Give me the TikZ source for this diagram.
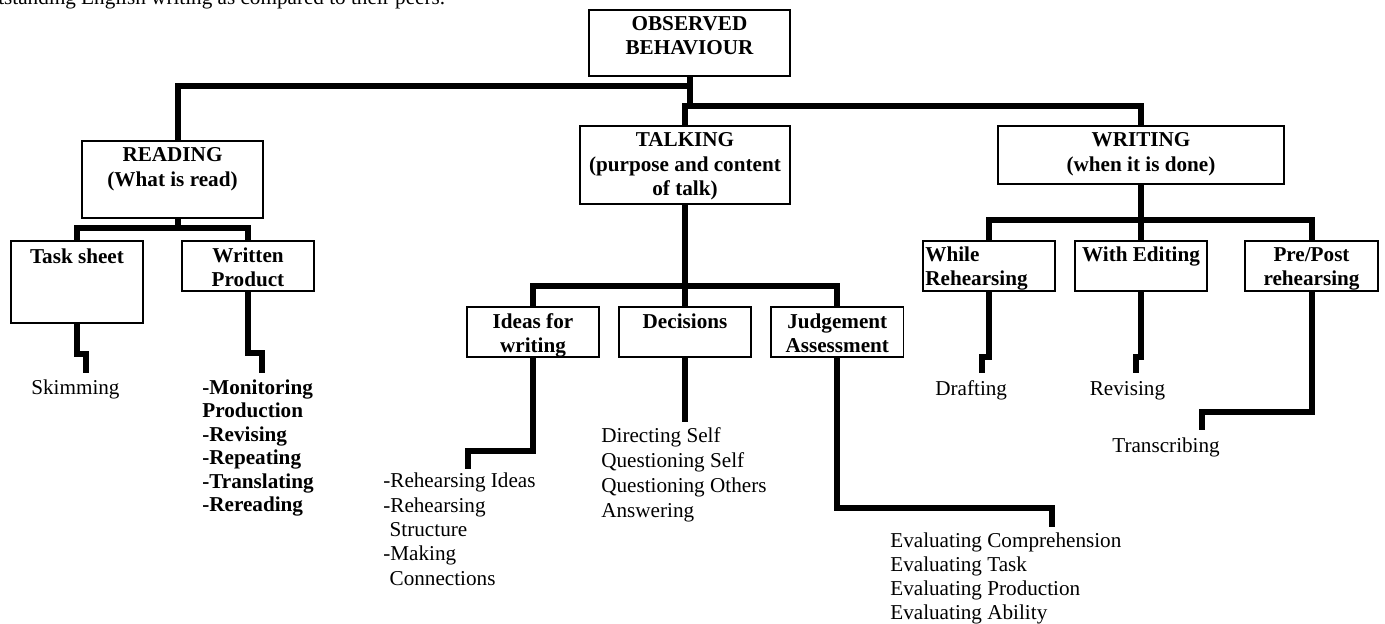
\documentclass[tikz,border=0pt]{standalone}
\usepackage{fontspec}
\setmainfont{Liberation Serif}
\usetikzlibrary{fit}
\begin{document}
\begin{tikzpicture}[x=0.6pt,y=-0.6pt,
  box/.style={draw, line width=0.8pt, inner sep=0pt},
  lbl/.style={font=\bfseries\fontsize{12.7}{14.7}\selectfont, align=center, inner sep=0pt, anchor=base},
  conn/.style={line width=3.6pt, line join=miter},
  txt/.style={font=\fontsize{12.7}{14.4}\selectfont, align=left, inner sep=0pt, anchor=base west}]
\useasboundingbox (0,0) rectangle (1385,623);
\clip (0,0) rectangle (1385,623);

% top text line (cut off); base anchor = baseline of the last line
\node[txt] (toptext) at (-2,4) {tstanding English writing as compared to their peers.};

% boxes
\node[box, fit={(589,10) (790,76)}] (ob) {};
\node[lbl] (obt) at (689.5,54.5) {OBSERVED\\BEHAVIOUR};

\node[box, fit={(82,141) (263,218)}] (read) {};
\node[lbl] (readt) at (172.5,186) {READING\\(What is read)};

\node[box, fit={(580,126) (790,204)}] (talk) {};
\node[lbl] (talkt) at (685,195.5) {TALKING\\(purpose and content\\of talk)};

\node[box, fit={(998,126) (1284,184)}] (writ) {};
\node[lbl] (writt) at (1141,171) {WRITING\\(when it is done)};

\node[box, fit={(11,241) (143,323)}] (task) {};
\node[lbl] (taskt) at (77,263) {Task sheet};

\node[box, fit={(182,241) (314,291)}] (wprod) {};
\node[lbl] (wprodt) at (248,286.5) {Written\\Product};

\node[box, fit={(467,307) (599,357)}] (ideas) {};
\node[lbl] (ideast) at (533,352.5) {Ideas for\\writing};

\node[box, fit={(619,307) (751,357)}] (dec) {};
\node[lbl] (dect) at (685,328) {Decisions};

\node[box, fit={(771,307) (903.6,357)}] (judg) {};
\node[lbl] (judgt) at (837.3,352.5) {Judgement\\Assessment};

\node[box, fit={(923,241) (1055,291)}] (while) {};
\node[lbl, align=left, anchor=base west] (whilet) at (925,285.5) {While\\Rehearsing};

\node[box, fit={(1075,241) (1207,291)}] (with) {};
\node[lbl] (witht) at (1141,261) {With Editing};

\node[box, fit={(1245,241) (1378,291)}] (pre) {};
\node[lbl] (pret) at (1311.5,285.5) {Pre/Post\\rehearsing};

% leaf texts
\node[txt] (skim) at (31,394) {Skimming};
\node[txt, font=\bfseries\fontsize{12.7}{14.1}\selectfont] (wlist) at (202,511.5)
  {-Monitoring\\Production\\-Revising\\-Repeating\\-Translating\\-Rereading};
\node[txt, font=\fontsize{12.7}{14.6}\selectfont] (ilist) at (383,585.3)
  {-Rehearsing Ideas\\-Rehearsing\\\hspace*{0.3em}Structure\\-Making\\\hspace*{0.3em}Connections};
\node[txt, font=\fontsize{12.7}{15}\selectfont] (dlist) at (601,517)
  {Directing Self\\Questioning Self\\Questioning Others\\Answering};
\node[txt, font=\fontsize{12.7}{14.5}\selectfont] (elist) at (890,619.5)
  {Evaluating Comprehension\\Evaluating Task\\Evaluating Production\\Evaluating Ability};
\node[txt] (draft) at (935,395) {Drafting};
\node[txt] (revis) at (1089.5,395) {Revising};
\node[txt] (trans) at (1112,452) {Transcribing};

% junction / end coordinates
\coordinate (jr) at (178,86);
\coordinate (jt) at (686,106);
\coordinate (skend) at (86,373);
\coordinate (wend) at (262,373);
\coordinate (iend) at (468,469);
\coordinate (dend) at (685,422);
\coordinate (jend) at (1052.4,527);
\coordinate (drend) at (982,373);
\coordinate (reend) at (1136.4,373);
\coordinate (trend) at (1202,430);

% connectors
\draw[conn] (ob.south) |- (jr) -- (jr |- read.north);
\draw[conn] (ob.south) -- (ob.south |- jt);
\draw[conn] (talk.north) |- (jt) -| (writ.north);

\draw[conn] (read.south -| jr) -- ++(0,11);
\draw[conn] (task.north) -- ++(0,-12) -| (wprod.north);
\draw[conn] (task.south) |- (86,354) -- (skend);
\draw[conn] (wprod.south) |- (262,353) -- (wend);

\draw[conn] (talk.south) -- (dec.north);
\draw[conn] (ideas.north) -- ++(0,-20) -| (judg.north);
\draw[conn] (ideas.south) |- (468,451) -- (iend);
\draw[conn] (dec.south) -- (dend);
\draw[conn] (judg.south) |- (1052.4,508) -- (jend);

\draw[conn] (writ.south) -- (with.north);
\draw[conn] (while.north) -- ++(0,-20) -| (pre.north);
\draw[conn] (while.south) |- (982,357) -- (drend);
\draw[conn] (with.south) |- (1136.4,357) -- (reend);
\draw[conn] (pre.south) |- (1202,412) -- (trend);
\end{tikzpicture}
\end{document}
